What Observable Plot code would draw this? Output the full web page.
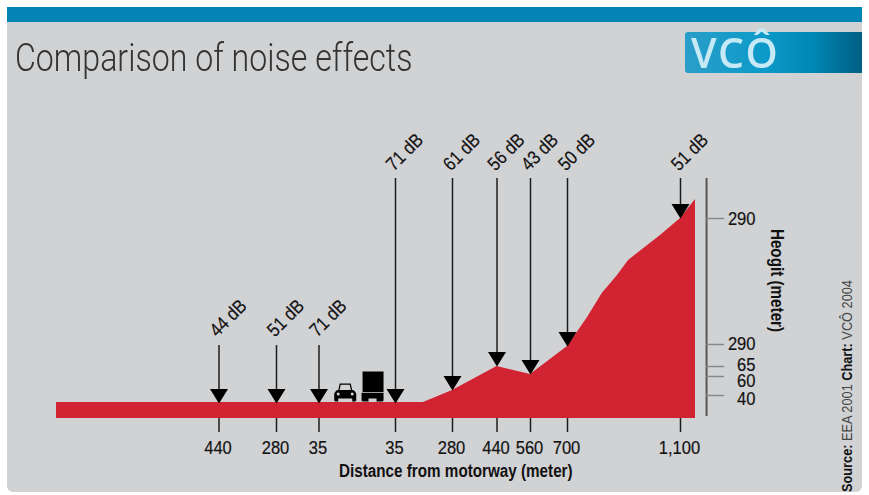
<!DOCTYPE html>
<html>
<head>
<meta charset="utf-8">
<script src="https://cdn.jsdelivr.net/npm/d3@7"></script>
<script src="https://cdn.jsdelivr.net/npm/@observablehq/plot@0.6"></script>
<style>
html,body{margin:0;padding:0;background:#fff;width:869px;height:495px;overflow:hidden}
#card{position:absolute;left:7px;top:7px;width:855px;height:485px;background:#d1d2d4;border-radius:0 0 6px 6px}
#bar{position:absolute;left:7px;top:7px;width:855px;height:15px;background:#0285b6}
#title{position:absolute;left:15px;top:36px;margin:0;font:300 38px Roboto,sans-serif;color:#333;white-space:nowrap;transform-origin:0 0;transform:scaleX(.845)}
#logo{position:absolute;left:685px;top:32px;width:177px;height:41px;border-radius:3px 0 0 3px;background:linear-gradient(90deg,#2a9ec9 0%,#0c9ac8 45%,#0087b4 72%,#005f82 100%)}
#logo span{position:absolute;left:6px;top:0;font:600 41px/41px "Open Sans",sans-serif;color:#c6e9f6;letter-spacing:1.5px;filter:blur(.7px)}
#source{position:absolute;left:838px;top:492px;transform-origin:0 0;transform:rotate(-90deg) scaleX(.85);font:400 15px "Liberation Sans",sans-serif;color:#444;white-space:nowrap}
#source b{color:#111}
#chart{position:absolute;left:0;top:0}
</style>
</head>
<body>
<div id="card"></div>
<div id="bar"></div>
<h1 id="title">Comparison of noise effects</h1>
<div id="logo"><span>VCÔ</span></div>
<div id="chart"></div>
<div id="source"><b>Source:</b> EEA 2001 <b>Chart:</b> VCÔ 2004</div>
<script>
// Distances along the valley, metres from the motorway (negative = left side)
const tickDistances = [-440, -280, -35, 35, 280, 440, 560, 700, 1100];
const tickLabels = ["440", "280", "35", "35", "280", "440", "560", "700", "1,100"];
const noiseLabels = ["44 dB", "51 dB", "71 dB", "71 dB", "61 dB", "56 dB", "43 dB", "50 dB", "51 dB"];
const surfaceAtTick = [15, 15, 15, 15, 28, 52, 44, 72, 200];
const arrowTops = [73, 73, 73, 240, 240, 240, 240, 240, 240];
const labelHeights = [85, 85, 85, 251, 251, 251, 251, 251, 251];

// Ground profile
const profileDistance = [-895, -440, -280, -35, 35, 155, 280, 440, 560, 700, 771, 823, 877, 916, 1029, 1100, 1153];
const profileHeight = [16, 16, 16, 16, 16, 16, 28, 52, 44, 72, 101, 125, 143, 158, 183, 200, 219];

// Right-hand height axis
const heightTicks = [23, 42, 52, 74, 200];
const heightLabelPos = [20, 38, 54, 75, 200];
const heightLabels = ["40", "60", "65", "290", "290"];

// Vehicles standing on the road
const vehicleDistance = [-11, 14];
const vehicleBase = [17, 17];

const font = '"Liberation Sans", sans-serif';
const hole = (c, x, y, r) => { c.moveTo(x + r, y); c.arc(x, y, r, 0, 2 * Math.PI, true); };
const arrowHead = {draw(c) { c.moveTo(-9, -14.5); c.lineTo(9, -14.5); c.lineTo(0, 0); c.closePath(); }};
const car = {draw(c) {
  c.moveTo(-11, -1); c.lineTo(-11, -8); c.lineTo(-9, -11); c.lineTo(-7, -11.5); c.lineTo(-5.5, -18); c.lineTo(5.5, -18); c.lineTo(7, -11.5); c.lineTo(9, -11); c.lineTo(11, -8); c.lineTo(11, -1);
  c.lineTo(10, 0); c.lineTo(7, 0); c.lineTo(7, -3); c.lineTo(-7, -3); c.lineTo(-7, 0); c.lineTo(-10, 0); c.closePath();
  c.moveTo(-4.5, -16.8); c.lineTo(-5.7, -11.5); c.lineTo(5.7, -11.5); c.lineTo(4.5, -16.8); c.closePath();
  hole(c, -7, -7.5, 1.5); hole(c, 7, -7.5, 1.5);
}};
const truck = {draw(c) {
  c.moveTo(-10, -30); c.lineTo(-10, -9.5); c.lineTo(11, -9.5); c.lineTo(11, -30); c.closePath();
  c.moveTo(-11, -8.7); c.lineTo(-11, -1); c.lineTo(-10, 0); c.lineTo(-4, 0); c.lineTo(-4, -3); c.lineTo(4, -3); c.lineTo(4, 0); c.lineTo(10, 0); c.lineTo(11, -1); c.lineTo(11, -8.7); c.closePath();
  hole(c, -7, -6.5, 1.5); hole(c, 7.5, -6.5, 1.5);
}};
const vehicleSymbols = [car, truck];

const idx = tickDistances.map((_, i) => i);
const vIdx = vehicleDistance.map((_, i) => i);
const hIdx = heightTicks.map((_, i) => i);
const pIdx = profileDistance.map((_, i) => i);
const axisAt = 1192;

const plot = Plot.plot({
  width: 869, height: 495,
  marginTop: 0, marginRight: 0, marginBottom: 0, marginLeft: 0,
  style: {background: "transparent", fontFamily: font, overflow: "visible"},
  x: {type: "linear", axis: null, domain: [-895, -440, -280, -35, 35, 280, 440, 560, 700, 1100, 1153], range: [56, 218.5, 276, 318.5, 395, 452, 496.5, 530, 567, 680, 695]},
  y: {type: "linear", axis: null, domain: [-77, 418], range: [495, 0]},
  marks: [
    Plot.areaY(pIdx, {x: i => profileDistance[i], y1: 0, y2: i => profileHeight[i], fill: "#d22333"}),
    Plot.ruleX(idx, {x: i => tickDistances[i], y1: i => surfaceAtTick[i] + 8, y2: i => arrowTops[i], stroke: "#1c1c1c", strokeWidth: 1.5}),
    Plot.ruleX(idx, {x: i => tickDistances[i], y1: 0, y2: -14, stroke: "#1c1c1c", strokeWidth: 1.5}),
    Plot.dot(idx, {x: i => tickDistances[i], y: i => surfaceAtTick[i], symbol: arrowHead, r: 3, fill: "#000"}),
    Plot.text(idx, {x: i => tickDistances[i], y: i => labelHeights[i], text: i => noiseLabels[i], rotate: -45, textAnchor: "start", dx: -6, fontSize: 19, fill: "#111", stroke: "#111", strokeWidth: 0.2}),
    Plot.text(idx, {x: i => tickDistances[i], y: -29, text: i => tickLabels[i], dx: -1, fontSize: 19, fill: "#111", stroke: "#111", strokeWidth: 0.2}),
    Plot.text(["Distance from motorway (meter)"], {x: 292, y: -53, text: d => d, fontSize: 17.5, fontWeight: 700, fill: "#111"}),
    ...vIdx.map(i => Plot.dot([i], {x: d => vehicleDistance[d], y: d => vehicleBase[d], symbol: vehicleSymbols[i], r: 3, fill: "#000"})),
    Plot.ruleX([axisAt], {y1: 2, y2: 240, stroke: "#555", strokeWidth: 2}),
    Plot.ruleY(hIdx, {y: i => heightTicks[i], x1: axisAt, x2: axisAt + 64, stroke: "#888", strokeWidth: 1.5}),
    Plot.text(hIdx, {x: axisAt + 173, y: i => heightLabelPos[i], text: i => heightLabels[i], textAnchor: "end", fontSize: 19, fill: "#111", stroke: "#111", strokeWidth: 0.2}),
    Plot.text(["Heogit (meter)"], {x: axisAt + 248, y: 138, text: d => d, rotate: 90, fontSize: 17.5, fontWeight: 700, fill: "#111"})
  ]
});
document.getElementById("chart").appendChild(plot);
// The reference sets its labels in a condensed face: narrow the glyphs to match
plot.querySelectorAll("text").forEach(t => {
  t.setAttribute("textLength", t.getComputedTextLength() * 0.87);
  t.setAttribute("lengthAdjust", "spacingAndGlyphs");
});
</script>
</body>
</html>
